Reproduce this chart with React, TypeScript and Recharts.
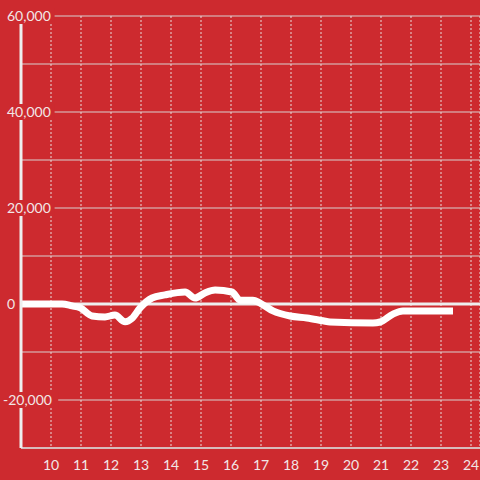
import { LineChart, Line, XAxis, YAxis, CartesianGrid, ReferenceLine } from "recharts";

// hour of day and value
const hours = [9, 10.37, 10.7, 10.97, 11.37, 11.8, 12.13, 12.47, 12.7, 12.97, 13.37, 13.8, 14.47, 14.8, 15.13, 15.47, 16.03, 16.3, 16.73, 16.97, 17.4, 17.97, 18.53, 19.07, 19.3, 20.73, 20.97, 21.4, 21.73, 23.4];
const values = [0, 0, -400, -800, -2500, -2700, -2300, -3700, -3000, -800, 1250, 1900, 2500, 1250, 2300, 2900, 2500, 800, 800, 200, -1450, -2500, -2900, -3500, -3750, -3950, -3750, -2100, -1450, -1450];

const xTicks = [10, 11, 12, 13, 14, 15, 16, 17, 18, 19, 20, 21, 22, 23, 24];
const yTicks = [-30000, -20000, -10000, 0, 10000, 20000, 30000, 40000, 50000, 60000];
const yLabels = [-20000, 0, 20000, 40000, 60000];

const data = hours.map((h, i) => ({ hour: h, value: values[i] }));

const BG = "#cd2a2f";
const TEXT = "#f2e6e6";

const YTick = (props: any) => {
  const { y, payload } = props;
  const v = payload.value;
  if (!yLabels.includes(v)) return null;
  const label = v.toLocaleString("en-US");
  const x = v < 0 ? 3 : 7;
  const w = label.length * 7.6;
  return (
    <g>
      <rect x={x - 2} y={y - 8} width={w + 4} height={16} fill={BG} />
      <text x={x} y={y} dy={5} textAnchor="start" fill={TEXT} fontSize={14} fontFamily="Lato">
        {label}
      </text>
    </g>
  );
};

export default function App() {
  return (
    <div style={{ position: "absolute", left: 0, top: 0, width: 480, height: 480, background: BG }}>
      <LineChart width={480} height={480} data={data} margin={{ top: 16, right: 0, bottom: 0, left: 0 }}>
        <CartesianGrid horizontal={true} vertical={false} stroke="#d8d0d0" strokeWidth={1} />
        <CartesianGrid horizontal={false} vertical={true} stroke="#e8dcdc" strokeDasharray="2 2" />
        <XAxis
          dataKey="hour"
          type="number"
          domain={[9, 24.3]}
          ticks={xTicks}
          allowDataOverflow
          tickLine={false}
          axisLine={{ stroke: "#d8d0d0", strokeWidth: 1.5 }}
          tick={{ fill: TEXT, fontSize: 14, fontFamily: "Lato" }}
          height={32}
          tickMargin={6}
        />
        <YAxis
          type="number"
          domain={[-30000, 60000]}
          ticks={yTicks}
          width={21}
          tickLine={false}
          axisLine={{ stroke: "#eeeeee", strokeWidth: 3 }}
          tick={<YTick />}
        />
        <ReferenceLine y={0} stroke="#eeeeee" strokeWidth={3} />
        <Line
          type="monotone"
          dataKey="value"
          stroke="#ffffff"
          strokeWidth={7}
          dot={false}
          activeDot={false}
          isAnimationActive={false}
        />
      </LineChart>
    </div>
  );
}
